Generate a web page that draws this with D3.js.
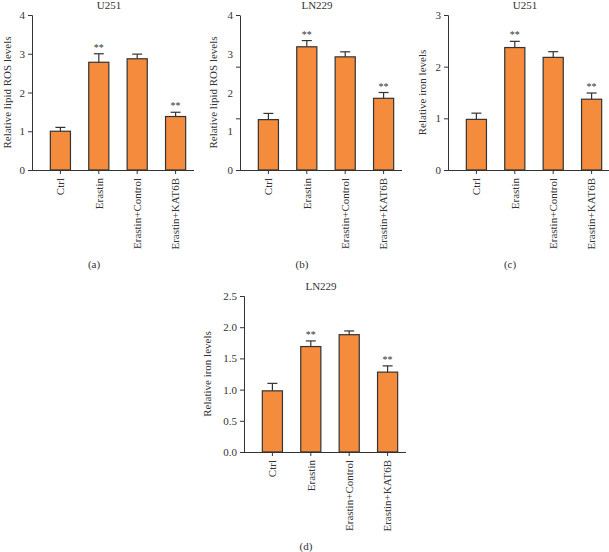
<!DOCTYPE html>
<html><head><meta charset="utf-8">
<script src="https://cdn.jsdelivr.net/npm/d3@7"></script>
<style>body{margin:0;background:#fff}svg{display:block}text{font-family:"Liberation Serif","DejaVu Serif",serif;fill:#333}</style>
</head><body><svg id="c" width="609" height="552"></svg>
<script>
const categories = ["Ctrl", "Erastin", "Erastin+Control", "Erastin+KAT6B"];
const stars = ["", "**", "", "**"];
const rosU251 = [1.0, 2.78, 2.87, 1.38];
const rosU251Err = [0.10, 0.22, 0.12, 0.11];
const rosLN229 = [1.30, 3.18, 2.92, 1.85];
const rosLN229Err = [0.16, 0.16, 0.13, 0.15];
const ironU251 = [0.98, 2.37, 2.18, 1.37];
const ironU251Err = [0.12, 0.12, 0.11, 0.12];
const ironLN229 = [0.98, 1.69, 1.88, 1.28];
const ironLN229Err = [0.12, 0.09, 0.06, 0.10];
const ticksRos = [0, 1, 2, 3, 4];
const ticksIronU = [0, 1, 2, 3];
const ticksIronL = [0, 0.5, 1.0, 1.5, 2.0, 2.5];

const svg = d3.select("#c");
const color = "#F58B3C";
const fs = "11px";

function panel(o) {
  const g = svg.append("g");
  const x0 = o.x0, yTop = o.yTop, yBot = o.yBot;
  const y = d3.scaleLinear().domain([0, o.max]).range([yBot, yTop]);
  const x = d3.scaleBand().domain(categories).range([x0 + 14, x0 + 158]).paddingInner(0.45).paddingOuter(0.1);
  const ya = g.append("g").attr("transform", `translate(${x0},0)`)
    .call(d3.axisLeft(y).tickValues(o.ticks).tickFormat(o.fmt).tickSize(o.tickMarks ? 0 : 4).tickPadding(o.tickMarks ? 7 : 3));
  ya.select(".domain").attr("stroke", "#333");
  ya.selectAll(".tick line").attr("stroke", "#333");
  ya.selectAll("text").style("font-size", fs).attr("fill", "#333");
  if (o.tickMarks) {
    const yb = g.append("g").attr("transform", `translate(${x0},0)`)
      .call(d3.axisLeft(y).tickValues(o.tickMarks).tickFormat("").tickSize(4));
    yb.select(".domain").remove();
    yb.selectAll(".tick line").attr("stroke", "#333");
  }
  const xa = g.append("g").attr("transform", `translate(0,${yBot})`)
    .call(d3.axisBottom(x).tickSize(4).tickSizeOuter(0));
  xa.select(".domain").attr("d", `M${x0},0.5H${x0 + 162}`).attr("stroke", "#333");
  xa.selectAll(".tick line").attr("stroke", "#333");
  xa.selectAll("text").style("font-size", fs).attr("fill", "#333")
    .attr("text-anchor", "end").attr("transform", "rotate(-90)").attr("x", -8).attr("y", 0).attr("dy", "0.35em");
  o.vals.forEach((v, i) => {
    const cx = x(categories[i]) + x.bandwidth() / 2;
    const top = y(v + o.err[i]);
    g.append("line").attr("x1", cx).attr("x2", cx).attr("y1", y(v)).attr("y2", top).attr("stroke", "#333").attr("stroke-width", 1.2);
    g.append("line").attr("x1", cx - 5).attr("x2", cx + 5).attr("y1", top).attr("y2", top).attr("stroke", "#333").attr("stroke-width", 1.2);
    if (stars[i]) g.append("text").attr("x", cx).attr("y", top - 3).attr("text-anchor", "middle").style("font-size", "10px").attr("fill", "#888").text(stars[i]);
  });
  g.selectAll("rect").data(o.vals).join("rect")
    .attr("x", (d, i) => x(categories[i]) + 0.5).attr("width", x.bandwidth() - 1)
    .attr("y", d => y(d)).attr("height", d => yBot - y(d))
    .attr("fill", color).attr("stroke", "#333").attr("stroke-width", 1.2);
  g.append("text").attr("x", x0 + 77).attr("y", yTop - 6).attr("text-anchor", "middle").style("font-size", fs).text(o.title);
  g.append("text").attr("transform", `translate(${x0 - o.ylabOff},${(yTop + yBot) / 2}) rotate(-90)`)
    .attr("text-anchor", "middle").attr("dy", "0.35em").style("font-size", fs).text(o.ylab);
  g.append("text").attr("x", x0 + 62).attr("y", yBot + 98).attr("text-anchor", "middle").style("font-size", fs).text(o.letter);
}

panel({x0: 32, yTop: 15, yBot: 170, max: 4, ticks: ticksRos, fmt: d3.format("d"), vals: rosU251, err: rosU251Err, title: "U251", ylab: "Relative lipid ROS levels", ylabOff: 25, letter: "(a)"});
panel({x0: 240, yTop: 15, yBot: 170, max: 4, ticks: ticksRos, fmt: d3.format("d"), tickMarks: [0, 4 / 3, 8 / 3, 4], vals: rosLN229, err: rosLN229Err, title: "LN229", ylab: "Relative lipid ROS levels", ylabOff: 27, letter: "(b)"});
panel({x0: 448, yTop: 15, yBot: 170, max: 3, ticks: ticksIronU, fmt: d3.format("d"), vals: ironU251, err: ironU251Err, title: "U251", ylab: "Relative iron levels", ylabOff: 26, letter: "(c)"});
panel({x0: 244, yTop: 296, yBot: 452, max: 2.5, ticks: ticksIronL, fmt: d3.format(".1f"), vals: ironLN229, err: ironLN229Err, title: "LN229", ylab: "Relative iron levels", ylabOff: 37, letter: "(d)"});
</script></body></html>
